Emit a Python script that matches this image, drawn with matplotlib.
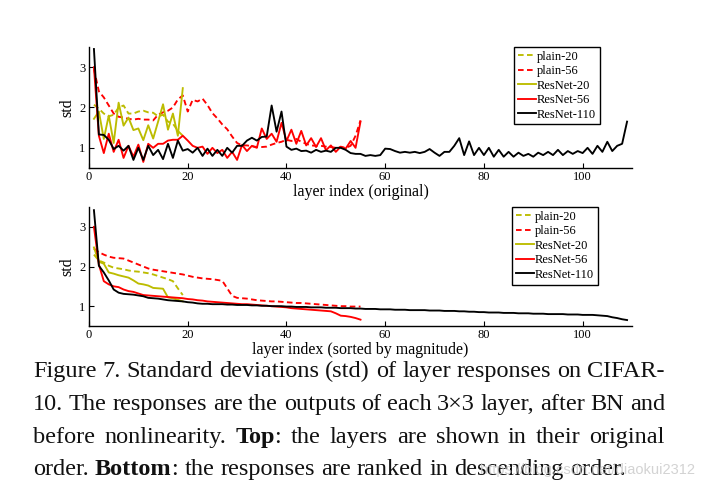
import matplotlib
matplotlib.use("Agg")
import matplotlib.pyplot as plt
from matplotlib.lines import Line2D

plt.rcParams['font.family'] = ['Liberation Serif', 'DejaVu Serif']
plt.rcParams['mathtext.fontset'] = 'stix'

# ---------------- data ----------------
labels = ["plain-20", "plain-56", "ResNet-20", "ResNet-56", "ResNet-110"]

plain20_orig = [2.07, 1.97, 1.85, 1.78, 1.82, 2.0, 2.05, 1.85, 1.85, 1.9, 1.92, 1.88, 1.87, 1.78, 1.82,
                1.65, 1.6, 1.42, 1.3]
plain56_orig = [2.95, 2.4, 2.25, 2.05, 1.85, 1.77, 1.75, 1.72, 1.7, 1.72, 1.7, 1.7, 1.68, 1.82, 1.88,
                1.92, 2.0, 2.2, 2.3, 1.9, 2.19, 2.15, 2.22, 2.06, 1.86, 1.73, 1.58, 1.46, 1.28, 1.12,
                1.06, 1.06, 1.04, 1.02, 1.02, 1.03, 1.08, 1.12, 1.15, 1.2, 1.17, 1.22, 1.15, 1.1, 1.06,
                1.05, 1.05, 1.03, 1.02, 1.0, 1.02, 1.0, 1.05, 1.3, 1.68]
resnet20_orig = [1.72, 1.9, 1.22, 1.8, 1.12, 2.12, 1.55, 1.75, 1.44, 1.48, 1.19, 1.56, 1.23, 1.65, 2.08,
                 1.45, 1.85, 1.3, 2.48]
resnet56_orig = [3.0, 1.3, 0.87, 1.35, 0.9, 1.2, 0.75, 1.05, 0.78, 1.08, 0.65, 1.1, 1.0, 1.1, 1.1,
                 1.18, 1.2, 1.2, 1.3, 1.18, 1.05, 1.0, 1.03, 0.85, 1.0, 0.87, 0.95, 0.75, 0.9, 0.7,
                 1.07, 0.92, 1.05, 1.0, 1.48, 1.22, 1.35, 1.15, 1.62, 1.17, 1.45, 1.1, 1.42, 1.06, 1.24,
                 1.02, 1.24, 0.94, 1.06, 0.9, 1.03, 0.98, 1.17, 1.0, 1.65]
resnet110_orig = [3.45, 1.33, 1.32, 1.2, 0.97, 1.05, 0.93, 1.05, 0.7, 1.0, 0.7, 1.05, 0.82, 0.95, 0.72,
                  1.1, 0.75, 1.18, 0.93, 0.97, 0.88, 1.0, 0.8, 0.98, 0.8, 0.95, 0.8, 1.0, 0.88, 1.05,
                  1.05, 1.18, 1.25, 1.18, 1.27, 1.28, 2.05, 1.4, 1.9, 1.03, 0.95, 0.98, 0.92, 0.93, 0.88,
                  0.95, 0.9, 0.93, 0.9, 1.0, 1.0, 0.95, 0.87, 0.85, 0.85, 0.8, 0.82, 0.8, 0.82, 0.98,
                  0.97, 0.92, 0.88, 0.9, 0.88, 0.9, 0.87, 0.9, 0.97, 0.88, 0.8, 0.9, 0.9, 1.05, 1.24,
                  0.82, 1.16, 0.82, 1.0, 0.82, 1.0, 0.78, 0.95, 0.78, 0.9, 0.78, 0.88, 0.8, 0.85, 0.78,
                  0.88, 0.82, 0.9, 0.82, 0.95, 0.82, 0.92, 0.85, 0.92, 0.87, 1.0, 0.85, 1.05, 0.9, 1.15,
                  0.92, 1.05, 1.1, 1.65]

plain20_sorted = [2.3, 2.15, 2.1, 2.02, 1.97, 1.95, 1.93, 1.9, 1.88, 1.87, 1.85, 1.83, 1.8, 1.76, 1.72,
                  1.68, 1.63, 1.45, 1.28]
plain56_sorted = [2.45, 2.36, 2.3, 2.25, 2.22, 2.21, 2.2, 2.15, 2.1, 2.05, 2.0, 1.95, 1.92, 1.9, 1.88,
                  1.86, 1.84, 1.82, 1.8, 1.77, 1.74, 1.72, 1.7, 1.69, 1.68, 1.66, 1.64, 1.45, 1.26, 1.21,
                  1.2, 1.19, 1.17, 1.15, 1.14, 1.13, 1.12, 1.12, 1.11, 1.1, 1.09, 1.08, 1.08, 1.07, 1.06,
                  1.05, 1.04, 1.03, 1.02, 1.01, 1.0, 1.0, 0.99, 0.99, 0.99]
resnet20_sorted = [2.48, 2.12, 2.07, 1.85, 1.82, 1.78, 1.75, 1.72, 1.65, 1.57, 1.55, 1.52, 1.46, 1.45,
                   1.44, 1.22, 1.2, 1.16, 1.12]
resnet56_sorted = [3.0, 2.05, 1.63, 1.55, 1.5, 1.48, 1.42, 1.38, 1.36, 1.32, 1.28, 1.27, 1.26, 1.25, 1.24,
                   1.23, 1.22, 1.21, 1.2, 1.18, 1.17, 1.15, 1.14, 1.12, 1.11, 1.1, 1.09, 1.08, 1.07, 1.06,
                   1.05, 1.05, 1.04, 1.03, 1.02, 1.01, 1.0, 0.99, 0.98, 0.97, 0.95, 0.94, 0.93, 0.92, 0.91,
                   0.9, 0.89, 0.88, 0.87, 0.82, 0.76, 0.75, 0.73, 0.7, 0.66]
resnet110_sorted = [3.42, 2.02, 1.85, 1.65, 1.42, 1.34, 1.31, 1.3, 1.29, 1.27, 1.25, 1.21, 1.2, 1.19, 1.17,
                    1.15, 1.14, 1.13, 1.12, 1.1, 1.09, 1.07, 1.06, 1.06, 1.05, 1.05, 1.05, 1.04, 1.04, 1.03,
                    1.03, 1.03, 1.02, 1.02, 1.01, 1.01, 1.0, 1.0, 1.0, 0.99, 0.99, 0.98, 0.98, 0.98, 0.97,
                    0.97, 0.97, 0.96, 0.96, 0.96, 0.95, 0.95, 0.95, 0.94, 0.94, 0.93, 0.93, 0.93, 0.92, 0.92,
                    0.92, 0.91, 0.91, 0.91, 0.9, 0.9, 0.9, 0.9, 0.89, 0.89, 0.89, 0.88, 0.88, 0.88, 0.87,
                    0.87, 0.86, 0.86, 0.85, 0.85, 0.84, 0.84, 0.84, 0.83, 0.83, 0.83, 0.82, 0.82, 0.82, 0.81,
                    0.81, 0.81, 0.8, 0.8, 0.8, 0.8, 0.79, 0.79, 0.79, 0.78, 0.78, 0.78, 0.77, 0.76, 0.75,
                    0.72, 0.7, 0.67, 0.65]

x_ticks = [0, 20, 40, 60, 80, 100]
y_ticks = [1, 2, 3]
caption_lines = [
    [[("Figure", "normal")], [("7.", "normal")], [("Standard", "normal")], [("deviations", "normal")],
     [("(std)", "normal")], [("of", "normal")], [("layer", "normal")], [("responses", "normal")],
     [("on", "normal")], [("CIFAR-", "normal")]],
    [[("10.", "normal")], [("The", "normal")], [("responses", "normal")], [("are", "normal")],
     [("the", "normal")], [("outputs", "normal")], [("of", "normal")], [("each", "normal")],
     [("3\u00d73", "normal")], [("layer,", "normal")], [("after", "normal")], [("BN", "normal")],
     [("and", "normal")]],
    [[("before", "normal")], [("nonlinearity.", "normal")], [("Top", "bold"), (":", "normal")],
     [("the", "normal")], [("layers", "normal")], [("are", "normal")], [("shown", "normal")],
     [("in", "normal")], [("their", "normal")], [("original", "normal")]],
    [[("order.", "normal")], [("Bottom", "bold"), (":", "normal")], [("the", "normal")],
     [("responses", "normal")], [("are", "normal")], [("ranked", "normal")], [("in", "normal")],
     [("descending", "normal")], [("order.", "normal")]],
]

colors = {"plain-20": "#bcbc00", "plain-56": "#ff0000", "ResNet-20": "#bcbc00",
          "ResNet-56": "#ff0000", "ResNet-110": "#000000"}
styles = {"plain-20": (0, (3.0, 1.8)), "plain-56": (0, (3.0, 1.8)), "ResNet-20": "-",
          "ResNet-56": "-", "ResNet-110": "-"}

W, H = 704, 486
fig = plt.figure(figsize=(W / 100, H / 100), dpi=100)

def px_axes(l, t, r, b):
    return fig.add_axes([l / W, 1 - b / H, (r - l) / W, (b - t) / H])

ax1 = px_axes(89, 47, 632, 168)
ax2 = px_axes(89, 207, 632, 326)

def style_ax(ax, xlabel):
    ax.set_xlim(0, 110)
    ax.set_ylim(0.5, 3.5)
    ax.set_xticks(x_ticks)
    ax.set_yticks(y_ticks)
    for s in ["top", "right"]:
        ax.spines[s].set_visible(False)
    for s in ["left", "bottom"]:
        ax.spines[s].set_linewidth(1.0)
    ax.tick_params(direction="in", length=3.5, width=0.8, labelsize=9, pad=2.5)
    ax.set_xlabel(xlabel, fontsize=11.5, labelpad=0.5)
    ax.set_ylabel("std", fontsize=11.5, labelpad=3)

def draw(ax, series, anchor):
    for name, vals in series:
        xs = list(range(1, len(vals) + 1))
        ax.plot(xs, vals, color=colors[name], linestyle=styles[name], lw=1.35, label=name)
    handles = [Line2D([], [], color=colors[n], linestyle=styles[n], lw=1.35) for n in labels]
    leg = ax.legend(handles, labels, loc="upper right", bbox_to_anchor=anchor, fontsize=9,
                    frameon=True, fancybox=False, edgecolor="black", framealpha=1,
                    borderpad=0.3, labelspacing=0.2, handlelength=1.5, handletextpad=0.05,
                    borderaxespad=0)
    leg.get_frame().set_linewidth(1.0)

draw(ax1, [("plain-20", plain20_orig), ("plain-56", plain56_orig), ("ResNet-20", resnet20_orig),
           ("ResNet-56", resnet56_orig), ("ResNet-110", resnet110_orig)], (0.941, 1.0))
draw(ax2, [("plain-20", plain20_sorted), ("plain-56", plain56_sorted), ("ResNet-20", resnet20_sorted),
           ("ResNet-56", resnet56_sorted), ("ResNet-110", resnet110_sorted)], (0.937, 1.0))
style_ax(ax1, "layer index (original)")
style_ax(ax2, "layer index (sorted by magnitude)")

# ---------------- caption (justified) ----------------
renderer = fig.canvas.get_renderer()

def seg_width(text, weight, size):
    t = fig.text(0, 0, text, fontsize=size, fontweight=weight)
    w = t.get_window_extent(renderer).width
    t.remove()
    return w

def word_width(word, size):
    return sum(seg_width(s, wt, size) for s, wt in word)

base = 10.0
space_base = seg_width("a b", "normal", base) - seg_width("ab", "normal", base)
last_nat = sum(word_width(w, base) for w in caption_lines[-1]) + space_base * (len(caption_lines[-1]) - 1)
fs = base * (626 - 33) / last_nat
space = space_base * fs / base

x0, x1 = 33, 665
baselines = [377, 410, 443, 475]
for i, line in enumerate(caption_lines):
    widths = [word_width(w, fs) for w in line]
    if i < len(caption_lines) - 1:
        gap = (x1 - x0 - sum(widths)) / (len(line) - 1)
    else:
        gap = space
    x = x0
    for word, ww in zip(line, widths):
        xx = x
        for seg, wt in word:
            fig.text(xx / W, 1 - baselines[i] / H, seg, fontsize=fs, fontweight=wt,
                     ha="left", va="baseline", color="#111111")
            xx += seg_width(seg, wt, fs)
        x += ww + gap

fig.text(695 / W, 1 - 474 / H, "https://blog.csdn.net/diaokui2312", fontsize=10.5,
         family=["Liberation Sans", "DejaVu Sans"], color="#c8c8c8", alpha=0.8,
         ha="right", va="baseline")

fig.savefig("out.png", dpi=100)
